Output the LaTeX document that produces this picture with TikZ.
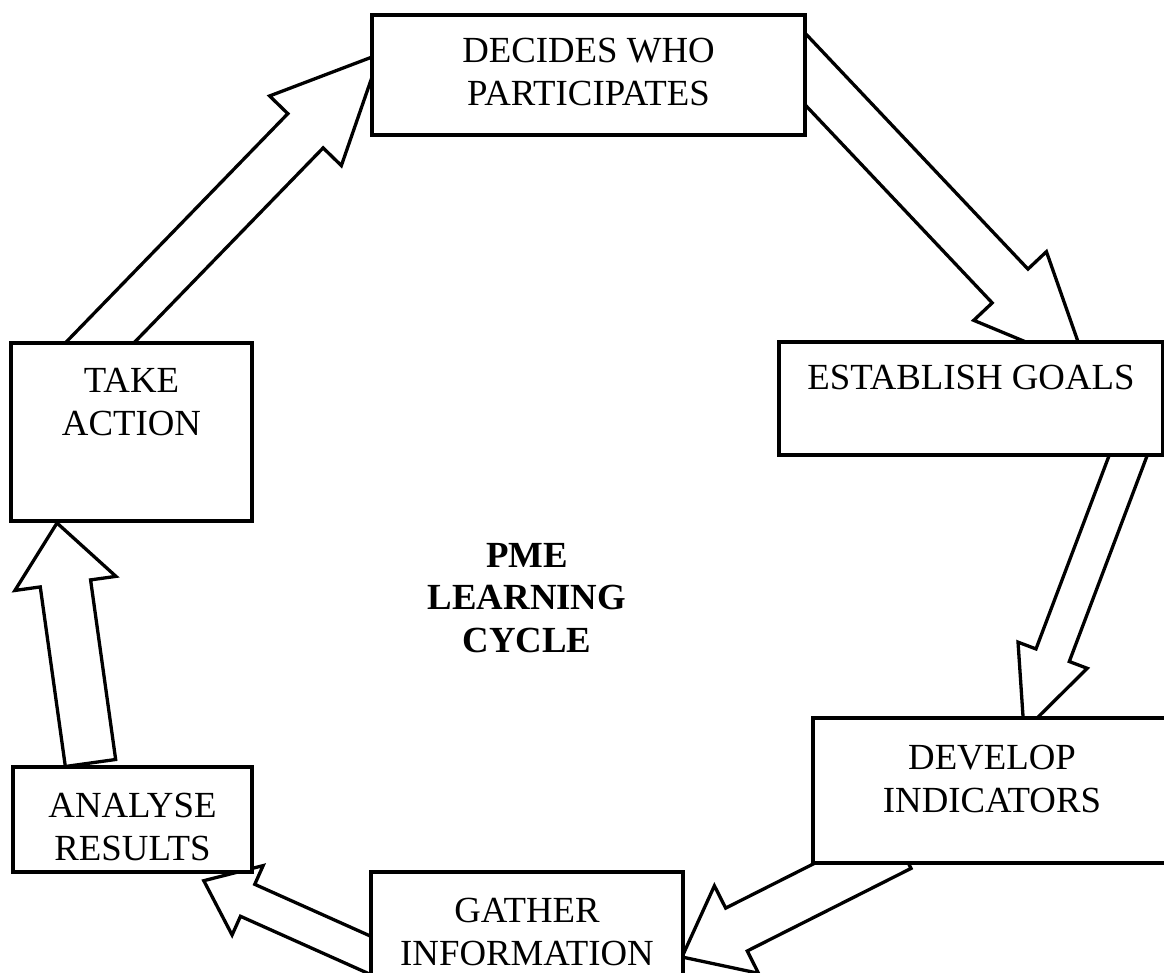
\documentclass[tikz,border=0pt]{standalone}
\usepackage{fontspec}
\setmainfont{Liberation Serif}
\usetikzlibrary{positioning, calc, backgrounds}

\tikzset{
  stagebox/.style={draw, fill=white, line width=2pt, inner sep=0pt},
  stagetext/.style={align=center, inner sep=0pt, font=\fontsize{18.4}{21.3}\selectfont},
  flow/.style={draw, fill=white, line width=1.65pt},
}

% block arrow: #1 start, #2 tip, #3 half shaft, #4 half head, #5 head length
\newcommand{\blockarrow}[5]{%
  \coordinate (ba-base) at ($(#2)!#5!(#1)$);
  \path[flow] ($(#1)!#3!90:(#2)$) -- ($(ba-base)!#3!90:(#2)$)
    -- ($(ba-base)!#4!90:(#2)$) -- (#2) -- ($(ba-base)!#4!-90:(#2)$)
    -- ($(ba-base)!#3!-90:(#2)$) -- ($(#1)!#3!-90:(#2)$) -- cycle;
}

\begin{document}
\begin{tikzpicture}[x=0.5pt, y=-0.5pt]
  \useasboundingbox (0,0) rectangle (1164,973);

  % the six stages
  \node[stagebox, minimum width=216.5pt, minimum height=60pt] (decides) at (588.5,75) {};
  \node[stagebox, minimum width=192pt, minimum height=56.5pt] (goals) at (971,398.5) {};
  \node[stagebox, minimum width=179pt, minimum height=72.5pt] (develop) at (992,790.5) {};
  \node[stagebox, minimum width=156pt, minimum height=64pt] (gather) at (527,936) {};
  \node[stagebox, minimum width=119.5pt, minimum height=52.5pt] (analyse) at (132.5,819.5) {};
  \node[stagebox, minimum width=120.5pt, minimum height=89pt] (take) at (131.5,432) {};

  \node[stagetext, below=12.5pt of decides.north] (decides-lbl) {DECIDES WHO\\PARTICIPATES};
  \node[stagetext, below=12.5pt of goals.north] (goals-lbl) {ESTABLISH GOALS};
  \node[stagetext, below=14.5pt of develop.north] (develop-lbl) {DEVELOP\\INDICATORS};
  \node[stagetext, below=14pt of gather.north] (gather-lbl) {GATHER\\INFORMATION};
  \node[stagetext, below=14pt of analyse.north] (analyse-lbl) {ANALYSE\\RESULTS};
  \node[stagetext, below=13.5pt of take.north] (take-lbl) {TAKE\\ACTION};

  \node[stagetext, font=\fontsize{18.4}{21.3}\selectfont\bfseries] (pme) at (527,598) {PME\\LEARNING\\CYCLE};

  % arrows go under the boxes
  \begin{scope}[on background layer]
    \coordinate (a1-s) at ($(take.north)+(-56.9,27.7)$);
    \coordinate (a1-t) at ($(decides.west)+(10,-21)$);
    \blockarrow{a1-s}{a1-t}{12.3pt}{25pt}{53.5pt}

    \coordinate (a2-s) at ($(decides.east)+(-27.5,-33.1)$);
    \coordinate (a2-t) at ($(goals.north)+(116,27.4)$);
    \blockarrow{a2-s}{a2-t}{12.3pt}{25pt}{56pt}

    \coordinate (a3-s) at ($(goals.south east)+(-23.2,-37.6)$);
    \coordinate (a3-t) at ($(develop.north)+(32,15)$);
    \blockarrow{a3-s}{a3-t}{8.9pt}{18.5pt}{40.5pt}

    \coordinate (a4-s) at ($(develop.south west)+(89.2,-18)$);
    \coordinate (a4-t) at ($(gather.east)+(-3,21)$);
    \blockarrow{a4-s}{a4-t}{12pt}{24.5pt}{30.5pt}

    \coordinate (a5-s) at ($(gather.west)+(36.4,34.9)$);
    \coordinate (a5-t) at ($(analyse.south)+(71.3,6.7)$);
    \blockarrow{a5-s}{a5-t}{8.75pt}{19pt}{24pt}

    \coordinate (a6-s) at ($(analyse.north)+(-42,-2)$);
    \coordinate (a6-t) at ($(take.south)+(-74.5,0)$);
    \blockarrow{a6-s}{a6-t}{12.7pt}{25.5pt}{30.5pt}
  \end{scope}
\end{tikzpicture}
\end{document}
